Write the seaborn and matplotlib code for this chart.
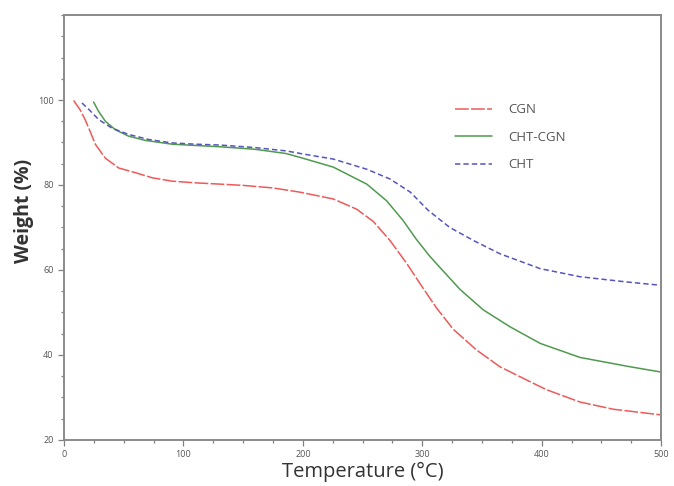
import numpy as np
import pandas as pd
import matplotlib
matplotlib.use("Agg")
import matplotlib.pyplot as plt
from matplotlib.ticker import MultipleLocator
import seaborn as sns

sns.set_style("white")
plt.rcParams['font.family'] = ['Open Sans', 'DejaVu Sans']

# TGA curves
cgn_temp = [8, 13.7, 17.8, 22, 26.2, 34.6, 45.8, 59.7, 73.7, 90.5, 110, 130.6, 150,
            175, 197.7, 225.5, 245, 259, 273, 287, 298, 312, 326, 345.6, 365,
            393, 404, 432, 460, 499]
cgn_weight = [99.9, 97.6, 95.3, 92.5, 89.6, 86.3, 84.0, 82.9, 81.7, 80.9, 80.5, 80.2, 79.9,
              79.3, 78.3, 76.7, 74.3, 71.4, 66.9, 61.5, 56.8, 51.0, 46.0, 41.1, 37.2,
              33.3, 31.8, 28.9, 27.2, 25.9]

chtcgn_temp = [24.8, 29, 34.6, 43, 54, 68, 90.5, 110, 130.6, 160, 186, 200, 225.5,
               253.5, 270, 284, 295, 306, 315, 331.6, 351, 373.5, 398.7, 432, 474, 499]
chtcgn_weight = [99.5, 97.3, 95.0, 93.0, 91.5, 90.5, 89.6, 89.3, 89.0, 88.4, 87.4, 86.3, 84.2,
                 80.2, 76.3, 71.6, 67.2, 63.3, 60.5, 55.4, 50.6, 46.6, 42.7, 39.4, 37.2, 36.0]

cht_temp = [15, 20.7, 29, 40, 54, 71, 90.5, 110, 130.6, 160, 186.5, 200, 225.5,
            253.5, 273, 290, 305, 323, 343, 365, 398.7, 432, 470, 499]
cht_weight = [99.3, 97.8, 95.4, 93.4, 91.9, 90.7, 89.9, 89.6, 89.4, 88.8, 88.0, 87.3, 86.1,
              83.7, 81.4, 78.3, 74.0, 70.0, 66.9, 63.8, 60.3, 58.4, 57.2, 56.4]

series_names = ['CGN', 'CHT-CGN', 'CHT']
series_colors = ['#ee5a5a', '#4f9a4f', '#5555c0']

df = pd.concat([
    pd.DataFrame({'T': cgn_temp, 'W': cgn_weight, 'sample': 'CGN'}),
    pd.DataFrame({'T': chtcgn_temp, 'W': chtcgn_weight, 'sample': 'CHT-CGN'}),
    pd.DataFrame({'T': cht_temp, 'W': cht_weight, 'sample': 'CHT'}),
])

fig = plt.figure(figsize=(6.74, 4.86), dpi=100)
ax = fig.add_axes([0.095, 0.095, 0.886, 0.874])

dashes = {'CGN': (9, 1.5), 'CHT-CGN': '', 'CHT': (3.5, 2)}
sns.lineplot(data=df, x='T', y='W', hue='sample', style='sample',
             hue_order=series_names, style_order=series_names,
             palette=dict(zip(series_names, series_colors)), dashes=dashes,
             linewidth=1.1, ax=ax, sort=True, estimator=None)

ax.set_xlim(0, 500)
ax.set_ylim(20, 120)
ax.set_yticks([20, 40, 60, 80, 100])
ax.set_xticks([0, 100, 200, 300, 400, 500])
ax.xaxis.set_minor_locator(MultipleLocator(25))
ax.yaxis.set_minor_locator(MultipleLocator(5))
ax.tick_params(which='both', direction='out', color='#808080', labelcolor='#555555',
               labelsize=6.5, width=0.9, bottom=True, left=True)
ax.tick_params(which='major', length=4)
ax.tick_params(which='minor', length=2.5)

for sp in ax.spines.values():
    sp.set_color('#8a8a8a')
    sp.set_linewidth(1.4)

ax.set_xlabel('Temperature (°C)', fontsize=14.5, color='#333333', labelpad=2)
ax.set_ylabel('Weight (%)', fontsize=14, color='#333333', fontweight='bold', labelpad=9)
ax.yaxis.set_label_coords(-0.05, 0.54)

leg = ax.legend(loc='upper left', bbox_to_anchor=(0.635, 0.82), frameon=False,
                fontsize=9.5, handlelength=2.8, handletextpad=1.2, labelspacing=1.1)
for t in leg.get_texts():
    t.set_color('#555555')

fig.savefig('out.png', dpi=100)
